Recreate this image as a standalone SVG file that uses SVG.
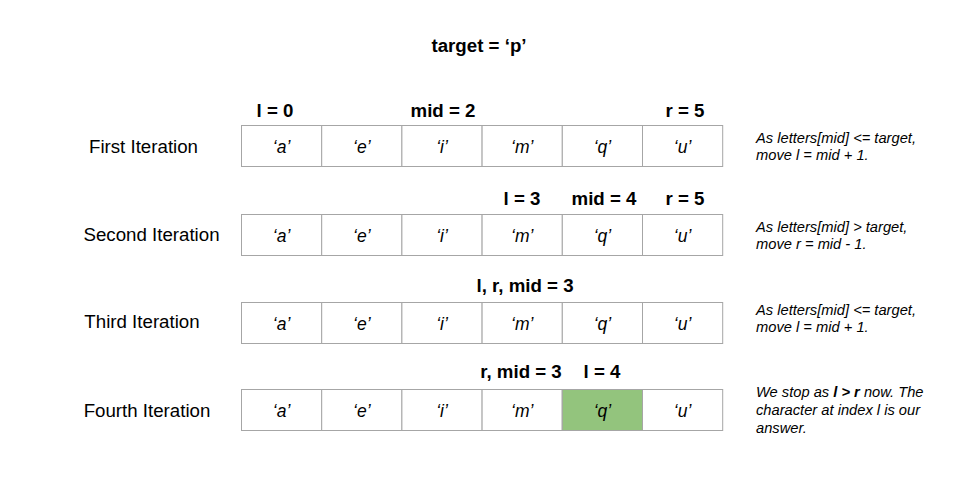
<svg xmlns="http://www.w3.org/2000/svg" width="960" height="480" viewBox="0 0 960 480">
<style>
.b{font-family:"Liberation Sans",Arial,sans-serif;font-weight:bold;font-size:18.7px;fill:#000;text-anchor:middle}
.lbl{font-family:"Liberation Sans",Arial,sans-serif;font-size:18.7px;fill:#000;text-anchor:middle}
.c{font-family:"Liberation Sans",Arial,sans-serif;font-style:italic;font-size:17.5px;fill:#000;text-anchor:middle}
.n{font-family:"Liberation Sans",Arial,sans-serif;font-style:italic;font-size:14.7px;fill:#000}
.cell{fill:#fff;stroke:#a6a6a6;stroke-width:1}
.hl{fill:#93c47d;stroke:#a6a6a6;stroke-width:1}
</style>
<defs>
<g id="row">
<rect class="cell" x="241.5" y="0.5" width="80.2" height="41"/>
<rect class="cell" x="321.7" y="0.5" width="80.2" height="41"/>
<rect class="cell" x="401.9" y="0.5" width="80.2" height="41"/>
<rect class="cell" x="482.1" y="0.5" width="80.2" height="41"/>
<rect class="cell" x="562.3" y="0.5" width="80.2" height="41"/>
<rect class="cell" x="642.5" y="0.5" width="80.2" height="41"/>
</g>
<g id="letters">
<text class="c" x="281.6" y="28">‘a’</text>
<text class="c" x="361.8" y="28">‘e’</text>
<text class="c" x="442" y="28">‘i’</text>
<text class="c" x="522.2" y="28">‘m’</text>
<text class="c" x="602.4" y="28">‘q’</text>
<text class="c" x="682.6" y="28">‘u’</text>
</g>
</defs>
<rect width="960" height="480" fill="#fff"/>
<text id="title" class="b" x="479" y="52">target = ‘p’</text>
<g id="connectors"></g>
<g id="iter1">
<text class="lbl" x="143.5" y="153">First Iteration</text>
<text class="b" x="275" y="117">l = 0</text>
<text class="b" x="443" y="117">mid = 2</text>
<text class="b" x="685" y="117">r = 5</text>
<use href="#row" x="0" y="125"/>
<use href="#letters" x="0" y="125"/>
<text class="n" x="756" y="143">As letters[mid] &lt;= target,</text>
<text class="n" x="756" y="160">move l = mid + 1.</text>
</g>
<g id="iter2">
<text class="lbl" x="151.5" y="241">Second Iteration</text>
<text class="b" x="522" y="205">l = 3</text>
<text class="b" x="604" y="205">mid = 4</text>
<text class="b" x="685" y="205">r = 5</text>
<use href="#row" x="0" y="214"/>
<use href="#letters" x="0" y="214"/>
<text class="n" x="756" y="232">As letters[mid] &gt; target,</text>
<text class="n" x="756" y="249">move r = mid - 1.</text>
</g>
<g id="iter3">
<text class="lbl" x="142" y="328">Third Iteration</text>
<text class="b" x="525" y="292">l, r, mid = 3</text>
<use href="#row" x="0" y="302"/>
<use href="#letters" x="0" y="302"/>
<text class="n" x="756" y="315">As letters[mid] &lt;= target,</text>
<text class="n" x="756" y="332">move l = mid + 1.</text>
</g>
<g id="iter4">
<text class="lbl" x="147" y="417">Fourth Iteration</text>
<text class="b" x="521" y="378">r, mid = 3</text>
<text class="b" x="602" y="378">l = 4</text>
<use href="#row" x="0" y="389"/>
<rect class="hl" x="562.3" y="389.5" width="80.2" height="41"/>
<use href="#letters" x="0" y="389"/>
<text class="n" x="756" y="397">We stop as <tspan font-weight="bold">l &gt; r</tspan> now. The</text>
<text class="n" x="756" y="415">character at index l is our</text>
<text class="n" x="756" y="433">answer.</text>
</g>
</svg>
